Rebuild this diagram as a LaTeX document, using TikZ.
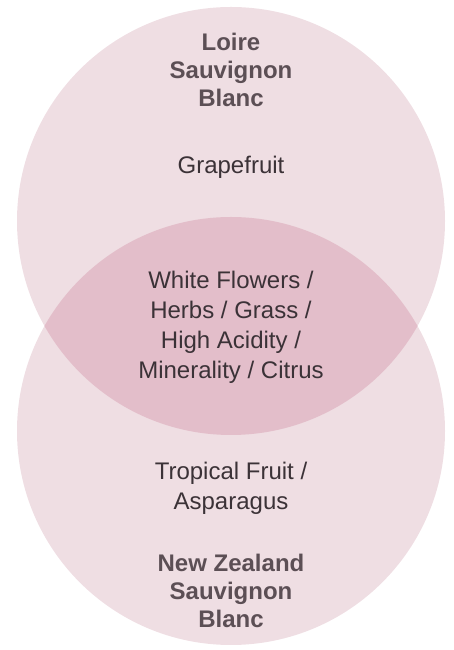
\documentclass[tikz,border=0pt]{standalone}
\usepackage{fontspec}
\setmainfont{Liberation Sans}
\usepackage{tikz}
\usetikzlibrary{positioning}
\definecolor{petal}{HTML}{EFDEE3}
\definecolor{overlap}{HTML}{E3BECA}
\definecolor{titlegray}{HTML}{5C4F55}
\definecolor{notegray}{HTML}{3B3237}

\begin{document}
\begin{tikzpicture}[
    x=1pt, y=1pt,
    title/.style={align=center, font=\bfseries\fontsize{24}{28}\selectfont,
                  text=titlegray},
    note/.style={align=center, font=\fontsize{24}{30}\selectfont,
                 text=notegray},
]

\useasboundingbox (0,0) rectangle (453,650);

% the two circles and their overlap
\fill[petal] (231,429) circle (214);
\fill[petal] (231,219) circle (214);
\begin{scope}
  \clip (231,429) circle (214);
  \fill[overlap] (231,219) circle (214);
\end{scope}

\node[title] (loire) at (231,580) {Loire\\Sauvignon\\Blanc};
\node[note] (grape) at (231,483) {Grapefruit};
\node[note] (shared) at (231,323)
    {White Flowers /\\Herbs / Grass /\\High Acidity /\\Minerality / Citrus};
\node[note] (tropic) at (231,162) {Tropical Fruit /\\Asparagus};
\node[title] (nz) at (231,59) {New Zealand\\Sauvignon\\Blanc};

\end{tikzpicture}
\end{document}
